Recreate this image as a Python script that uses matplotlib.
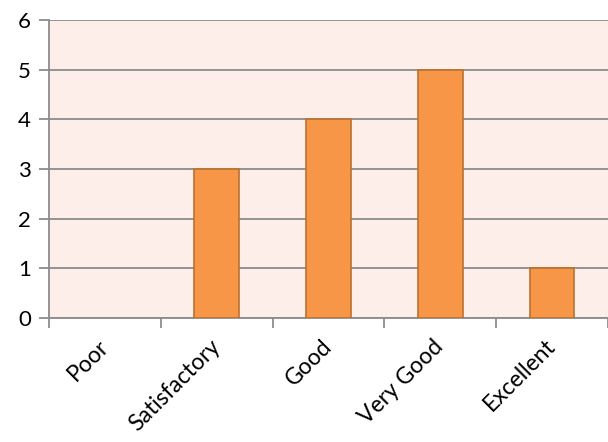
import numpy as np
import matplotlib.pyplot as plt

plt.rcParams['font.family'] = ['Lato', 'DejaVu Sans']

categories = ['Poor', 'Satisfactory', 'Good', 'Very Good', 'Excellent']
counts = [0, 3, 4, 5, 1]

fig = plt.figure(figsize=(6.08, 4.42), dpi=100)
ax = fig.add_axes([49 / 608, 124 / 442, 559 / 608, 298 / 442])
ax.set_facecolor('#FDEEE9')

x = np.arange(len(categories))
# empty categories get no outline (Excel draws nothing there)
edge_w = [1.2 if c > 0 else 0 for c in counts]
ax.bar(x, counts, width=0.4, color='#F79646', edgecolor='#B9712F',
       linewidth=edge_w, zorder=3)

ax.set_xlim(-0.5, len(categories) - 0.5)
ax.set_ylim(0, 6)
ax.set_yticks(range(7))
ax.yaxis.grid(True, color='#8C8C8C', linewidth=1.3, zorder=1)
ax.set_axisbelow(True)

# category labels at centres, tick marks at slot boundaries
ax.set_xticks(x)
ax.set_xticklabels(categories, rotation=45, ha='right', va='center',
                   rotation_mode='anchor')
ax.set_xticks(np.arange(-0.5, len(categories)), minor=True)
ax.tick_params(axis='x', which='major', length=0, pad=18, labelsize=16.5)
ax.tick_params(axis='x', which='minor', length=7, width=1.3, color='#8C8C8C')
ax.tick_params(axis='y', length=7, width=1.3, color='#8C8C8C', labelsize=16, pad=6)

for side in ['top', 'right']:
    ax.spines[side].set_visible(False)
for side in ['left', 'bottom']:
    ax.spines[side].set_color('#8C8C8C')
    ax.spines[side].set_linewidth(1.3)

fig.savefig('out.png', dpi=100)
